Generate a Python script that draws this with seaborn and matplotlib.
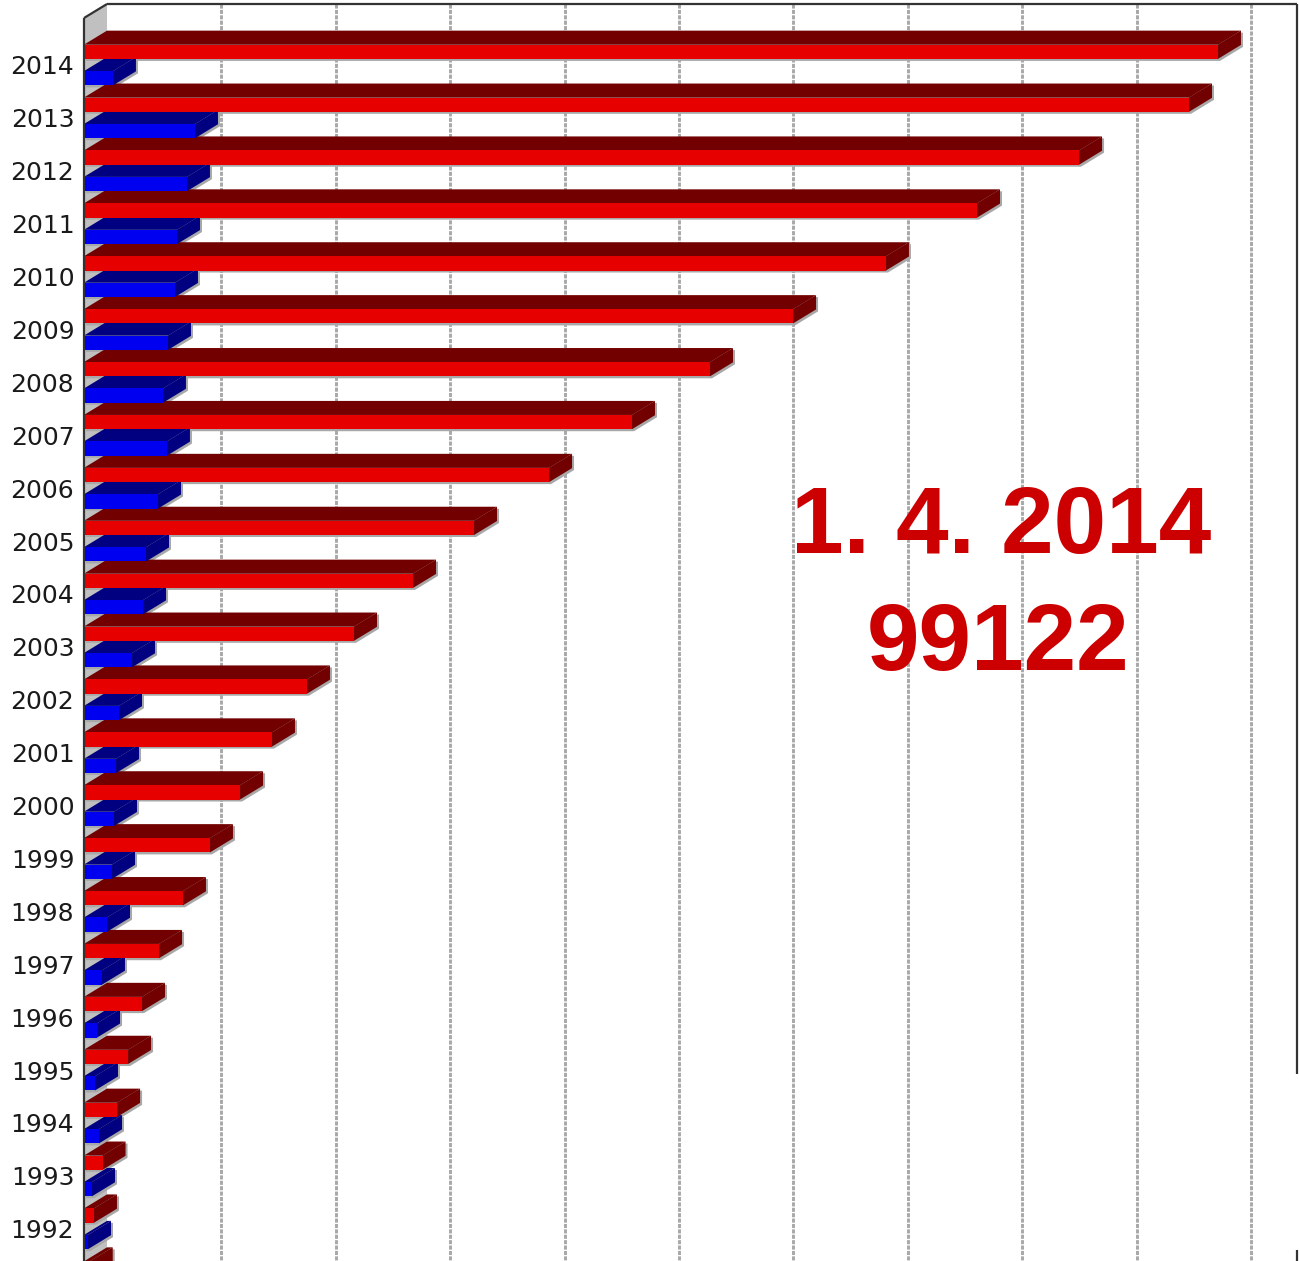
import matplotlib as mpl
import numpy as np
import pandas as pd
mpl.use("Agg")
import matplotlib.pyplot as plt
import seaborn as sns
from matplotlib.patches import Polygon

# values (red = running total, blue = added that year)
years = [str(y) for y in range(2014, 1990, -1)]
total = [99122, 96590, 86980, 78060, 70100, 61980, 54720, 47900, 40650, 34090,
         28760, 23600, 19490, 16430, 13640, 11010, 8650, 6560, 5070, 3850,
         2890, 1620, 870, 500]
added = [2530, 9700, 9000, 8130, 7950, 7340, 6900, 7250, 6470, 5420,
         5160, 4200, 3060, 2800, 2620, 2450, 2010, 1570, 1140, 960,
         1310, 700, 350, 500]
grid_steps = list(range(10000, 100001, 10000))

df = pd.DataFrame({
    "year": years * 2,
    "series": ["total"] * len(years) + ["added"] * len(years),
    "value": total + added,
})

front = {"total": "#e60000", "added": "#0000f0"}
dark = {"#e60000": "#720000", "#0000f0": "#000080"}

W, H = 1299, 1261
PX_LEFT, PX_RIGHT, PX_TOP, PX_BOTTOM = 84, 1297, 4, 1261
PX_PER_10K = 114.4
ROW_PX, ROW0_PX = 52.9, 65
DEPTH_X, DEPTH_Y = 23, 14

XMAX = (PX_RIGHT - PX_LEFT) / PX_PER_10K * 10000
YTOP = (PX_TOP - ROW0_PX) / ROW_PX
YBOT = (PX_BOTTOM - ROW0_PX) / ROW_PX
dx = DEPTH_X / PX_PER_10K * 10000
dy = DEPTH_Y / ROW_PX


def py(px):
    return (px - ROW0_PX) / ROW_PX


fig = plt.figure(figsize=(W / 100, H / 100), dpi=100)
ax = fig.add_axes([PX_LEFT / W, 1 - PX_BOTTOM / H,
                   (PX_RIGHT - PX_LEFT) / W, (PX_BOTTOM - PX_TOP) / H])

sns.barplot(data=df, y="year", x="value", hue="series", order=years,
            hue_order=["total", "added"], palette=front, orient="h",
            width=1.0, gap=0.46, legend=False, ax=ax, linewidth=0,
            saturation=1)

ax.set_xlim(0, XMAX)
ax.set_ylim(YBOT, YTOP)
ax.set_xticks([])
ax.set_xlabel("")
ax.set_ylabel("")
for s in ax.spines.values():
    s.set_visible(False)
ax.tick_params(axis="y", length=0, pad=7, labelsize=18, labelcolor="#1a1a1a")

# 3d extrusion of every bar
for r in list(ax.patches):
    x0, y0, w, h = r.get_x(), r.get_y(), r.get_width(), r.get_height()
    col = dark[mpl.colors.to_hex(r.get_facecolor())]
    z = 3 + (30 - (y0 + h / 2)) * 0.1
    r.set_zorder(z + 0.01)
    sx, sy = 2 / PX_PER_10K * 10000, 2 / ROW_PX
    sil = [(x0, y0 + h), (x0 + w, y0 + h), (x0 + w + dx, y0 + h - dy),
           (x0 + w + dx, y0 - dy), (x0 + dx, y0 - dy), (x0, y0)]
    ax.add_patch(Polygon([(a + sx, b + sy) for a, b in sil], closed=True,
                         facecolor="#a8a8a8", edgecolor="none", zorder=2.5))
    ax.add_patch(Polygon([(x0, y0), (x0 + w, y0), (x0 + w + dx, y0 - dy),
                          (x0 + dx, y0 - dy)], closed=True,
                         facecolor=col, edgecolor="none", zorder=z))
    ax.add_patch(Polygon([(x0 + w, y0), (x0 + w + dx, y0 - dy),
                          (x0 + w + dx, y0 + h - dy), (x0 + w, y0 + h)],
                         closed=True, facecolor=col, edgecolor="none", zorder=z))

# back wall grid
for g in grid_steps:
    ax.plot([g + dx, g + dx], [YTOP, YBOT], color="#a8a8a8", lw=2.1,
            linestyle=(0, (1.4, 0.45)), zorder=1)

# left side wall
ax.add_patch(Polygon([(0, YTOP + dy), (dx, YTOP), (dx, YBOT), (0, YBOT)],
                     closed=True, facecolor="#c0c0c0", edgecolor="none",
                     zorder=2))

frame = dict(color="#333333", lw=1.6, clip_on=False, zorder=8,
             solid_capstyle="butt")
ax.plot([0, 0], [YTOP + dy, YBOT], **frame)
ax.plot([0, dx], [YTOP + dy, YTOP], **frame)
ax.plot([dx, XMAX], [YTOP, YTOP], **frame)
ax.plot([XMAX, XMAX], [YTOP, py(1074)], **frame)
ax.plot([XMAX, XMAX], [py(1250), YBOT], **frame)

txt = dict(color="#cc0000", fontsize=68, fontweight="bold",
           family="Liberation Sans", ha="center", va="baseline")
fig.text(1001 / W, 1 - 553 / H, "1. 4. 2014", **txt)
fig.text(998 / W, 1 - 670 / H, "99122", **txt)

fig.savefig("out.png", dpi=100)
